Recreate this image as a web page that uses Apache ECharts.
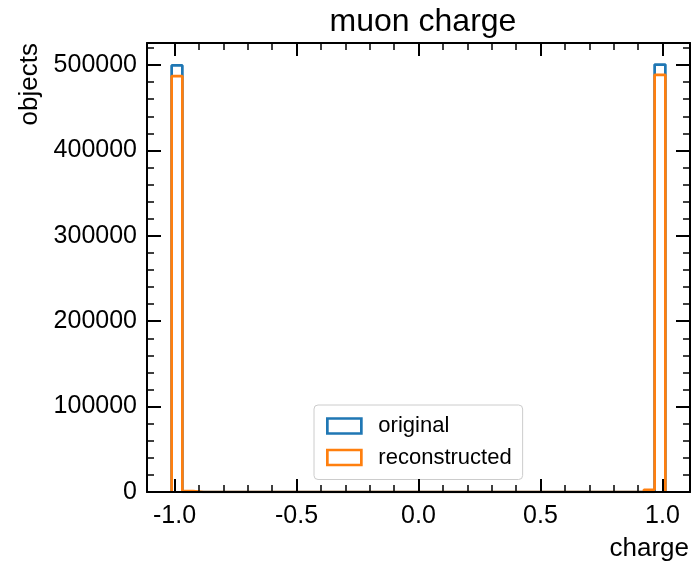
<!DOCTYPE html>
<html>
<head>
<meta charset="utf-8">
<script src="https://cdn.jsdelivr.net/npm/echarts@6/dist/echarts.min.js"></script>
<style>
  html, body { margin: 0; padding: 0; background: #ffffff; }
  #chart { width: 693px; height: 570px; }
</style>
</head>
<body>
<div id="chart"></div>
<script>
// Histogram binning of the muon charge
const binLow = -1.012;
const binWidth = 0.044;

// Counts per bin (46 bins)
const originalCounts = [
  499500, 0, 0, 0, 0, 0, 0, 0, 0, 0,
  0, 0, 0, 0, 0, 0, 0, 0, 0, 0,
  0, 0, 0, 0, 0, 0, 0, 0, 0, 0,
  0, 0, 0, 0, 0, 0, 0, 0, 0, 0,
  0, 0, 0, 0, 0, 500500
];
const reconstructedCounts = [
  487000, 1200, 0, 0, 0, 0, 0, 0, 0, 0,
  0, 0, 0, 0, 0, 0, 0, 0, 0, 0,
  0, 0, 0, 0, 0, 0, 0, 0, 0, 0,
  0, 0, 0, 0, 0, 0, 0, 0, 0, 0,
  0, 0, 0, 0, 2500, 488500
];

// Axis ticks
const xMajorTicks = [-1.0, -0.5, 0.0, 0.5, 1.0];
const xMinorTicks = [-0.9, -0.8, -0.7, -0.6, -0.4, -0.3, -0.2, -0.1,
                     0.1, 0.2, 0.3, 0.4, 0.6, 0.7, 0.8, 0.9];
const yMajorTicks = [0, 100000, 200000, 300000, 400000, 500000];
const yMinorTicks = [20000, 40000, 60000, 80000, 120000, 140000, 160000, 180000,
                     220000, 240000, 260000, 280000, 320000, 340000, 360000, 380000,
                     420000, 440000, 460000, 480000, 520000];

const xRange = [-1.113, 1.113];
const yRange = [0, 525800];

// Build a closed step outline from bin counts
function stepOutline(counts) {
  const pts = [[binLow, 0]];
  for (let i = 0; i < counts.length; i++) {
    const x0 = binLow + i * binWidth;
    const x1 = x0 + binWidth;
    pts.push([x0, counts[i]], [x1, counts[i]]);
  }
  pts.push([binLow + counts.length * binWidth, 0]);
  return pts;
}

const FONT = 'Liberation Sans, Arial, Helvetica, sans-serif';
const BLUE = '#1f77b4';
const ORANGE = '#ff7f0e';

function xAxisDef(position, ticks, len, showLine, showLabels) {
  return {
    type: 'value', position: position, min: xRange[0], max: xRange[1], z: 10,
    axisLine: { show: showLine, onZero: false, lineStyle: { color: '#000', width: 2 } },
    axisTick: { show: true, inside: true, length: len, customValues: ticks,
                lineStyle: { color: '#000', width: len > 10 ? 2 : 1.5 } },
    axisLabel: { show: showLabels, customValues: ticks, margin: 12,
                 fontFamily: FONT, fontSize: 25, color: '#000',
                 formatter: v => v.toFixed(1) },
    splitLine: { show: false }
  };
}
function yAxisDef(position, ticks, len, showLine, showLabels) {
  return {
    type: 'value', position: position, min: yRange[0], max: yRange[1], z: 10,
    axisLine: { show: showLine, onZero: false, lineStyle: { color: '#000', width: 2 } },
    axisTick: { show: true, inside: true, length: len, customValues: ticks,
                lineStyle: { color: '#000', width: len > 10 ? 2 : 1.5 } },
    axisLabel: { show: showLabels, customValues: ticks, margin: 10,
                 fontFamily: FONT, fontSize: 25, color: '#000',
                 formatter: v => String(Math.round(v)) },
    splitLine: { show: false }
  };
}

const chart = echarts.init(document.getElementById('chart'), null, { renderer: 'canvas' });

chart.setOption({
  animation: false,
  backgroundColor: '#ffffff',
  title: {
    text: 'muon charge',
    left: 418, top: 1, textAlign: 'center',
    textStyle: { fontFamily: FONT, fontSize: 32, fontWeight: 'normal', color: '#000' }
  },
  grid: { left: 147, right: 3, top: 43, bottom: 78, containLabel: false },
  xAxis: [
    xAxisDef('bottom', xMajorTicks, 13, true, true),
    xAxisDef('bottom', xMinorTicks, 7, false, false),
    xAxisDef('top', xMajorTicks, 13, true, false),
    xAxisDef('top', xMinorTicks, 7, false, false)
  ],
  yAxis: [
    yAxisDef('left', yMajorTicks, 14, true, true),
    yAxisDef('left', yMinorTicks, 7, false, false),
    yAxisDef('right', yMajorTicks, 14, true, false),
    yAxisDef('right', yMinorTicks, 7, false, false)
  ],
  legend: {
    orient: 'vertical',
    left: 314, top: 405,
    padding: [10, 11, 11, 12],
    itemGap: 9.5,
    itemWidth: 34, itemHeight: 15,
    icon: 'rect',
    backgroundColor: 'rgba(255,255,255,0.8)',
    borderColor: '#cccccc', borderWidth: 1, borderRadius: 4,
    textStyle: { fontFamily: FONT, fontSize: 22, lineHeight: 22, color: '#000',
                 padding: [0, 0, 0, 12] },
    data: [
      { name: 'original', icon: 'rect',
        itemStyle: { color: 'transparent', borderColor: BLUE, borderWidth: 2.7 } },
      { name: 'reconstructed', icon: 'rect',
        itemStyle: { color: 'transparent', borderColor: ORANGE, borderWidth: 2.7 } }
    ]
  },
  series: [
    {
      name: 'original', type: 'line', xAxisIndex: 0, yAxisIndex: 0,
      data: stepOutline(originalCounts), showSymbol: false, symbol: 'none',
      lineStyle: { color: BLUE, width: 2.7 }, itemStyle: { color: BLUE }, z: 2
    },
    {
      name: 'reconstructed', type: 'line', xAxisIndex: 0, yAxisIndex: 0,
      data: stepOutline(reconstructedCounts), showSymbol: false, symbol: 'none',
      lineStyle: { color: ORANGE, width: 2.7 }, itemStyle: { color: ORANGE }, z: 3
    }
  ],
  graphic: [
    {
      type: 'text', x: 30, y: 43, rotation: Math.PI / 2,
      style: { text: 'objects', fontFamily: FONT, fontSize: 26, fill: '#000',
               textAlign: 'right', textVerticalAlign: 'middle' }
    },
    {
      type: 'text', x: 689, y: 549,
      style: { text: 'charge', fontFamily: FONT, fontSize: 26, fill: '#000',
               textAlign: 'right', textVerticalAlign: 'middle' }
    }
  ]
});
</script>
</body>
</html>
